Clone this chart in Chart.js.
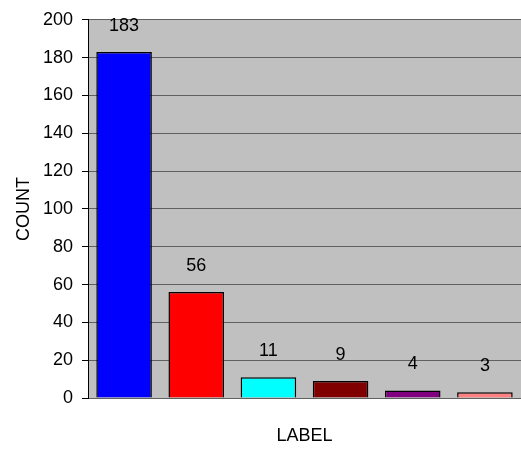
<!DOCTYPE html>
<html>
<head>
<meta charset="utf-8">
<script src="https://cdn.jsdelivr.net/npm/chart.js@4/dist/chart.umd.min.js"></script>
<style>
  body { margin: 0; background: #fff; }
  #wrap { width: 521px; height: 450px; position: relative; }
</style>
</head>
<body>
<div id="wrap"><canvas id="countChart"></canvas></div>
<script>
const categories = ["A", "B", "C", "D", "E", "F"]
const counts = [183, 56, 11, 9, 4, 3]
const barColors = ["#0000ff", "#ff0000", "#00ffff", "#800000", "#800080", "#ff8080"]
const yTicks = { min: 0, max: 200, step: 20 }

// grey plot area like the old spreadsheet charts
const plotBackground = {
  id: "plotBackground",
  beforeDraw(chart) {
    const { ctx, chartArea } = chart
    ctx.save()
    ctx.fillStyle = "#c0c0c0"
    ctx.fillRect(chartArea.left, chartArea.top, chartArea.right - chartArea.left, chartArea.bottom - chartArea.top)
    ctx.restore()
  },
}

// value labels floating above each bar
const valueLabels = {
  id: "valueLabels",
  afterDatasetsDraw(chart) {
    const { ctx } = chart
    const meta = chart.getDatasetMeta(0)
    ctx.save()
    ctx.font = "18px 'Liberation Sans', Arial, sans-serif"
    ctx.fillStyle = "#000"
    ctx.textAlign = "center"
    ctx.textBaseline = "middle"
    meta.data.forEach((bar, i) => {
      ctx.fillText(String(counts[i]), bar.x, bar.y - 26)
    })
    ctx.restore()
  },
}

const font = { family: "'Liberation Sans', Arial, sans-serif", size: 18 }

new Chart(document.getElementById("countChart"), {
  type: "bar",
  data: {
    labels: categories,
    datasets: [
      {
        data: counts,
        backgroundColor: barColors,
        borderColor: "#000",
        borderWidth: 1.5,
        categoryPercentage: 1,
        barPercentage: 0.77,
      },
    ],
  },
  options: {
    responsive: true,
    maintainAspectRatio: false,
    animation: false,
    layout: { padding: { top: 17, right: 0, bottom: 0, left: 0 } },
    plugins: {
      legend: { display: false },
      tooltip: { enabled: false },
    },
    scales: {
      x: {
        ticks: { display: false },
        grid: { display: false, drawTicks: false },
        border: { color: "#606060", width: 1 },
        title: { display: true, text: "LABEL", color: "#000", font: font, padding: { top: 0, bottom: 3 } },
        afterFit: (scale) => { scale.height = 52 },
      },
      y: {
        min: yTicks.min,
        max: yTicks.max,
        ticks: { stepSize: yTicks.step, color: "#000", font: font, padding: 9 },
        grid: { color: "#606060", tickColor: "#000", tickLength: 6, lineWidth: 1 },
        border: { color: "#000", width: 1 },
        title: { display: true, text: "COUNT", color: "#000", font: font, padding: { top: 13, bottom: 0 } },
        afterFit: (scale) => { scale.width = 88 },
      },
    },
  },
  plugins: [plotBackground, valueLabels],
})
</script>
</body>
</html>
